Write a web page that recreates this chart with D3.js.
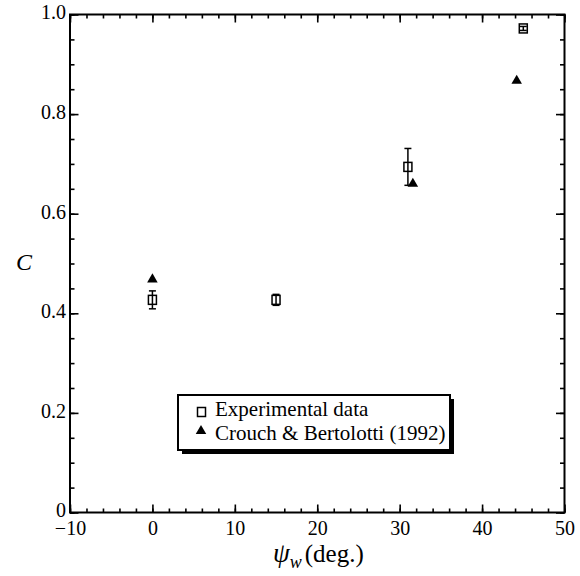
<!DOCTYPE html>
<html>
<head>
<meta charset="utf-8">
<script src="https://cdn.jsdelivr.net/npm/d3@7/dist/d3.min.js"></script>
<style>
  html, body { margin: 0; padding: 0; background: #fff; }
  svg { display: block; }
  svg text { font-family: "Liberation Serif", "Times New Roman", Times, serif; fill: #000; }
  .tick text { font-size: 20px; }
</style>
</head>
<body>
<svg id="chart" width="580" height="576"></svg>
<script>
// Tick values
const xMajor = [-10, 0, 10, 20, 30, 40, 50];
const xMinor = d3.range(-10, 50.001, 2);
const yMajor = [0, 0.2, 0.4, 0.6, 0.8, 1.0];
const yMinor = d3.range(0, 1.0001, 0.05);
const yTickLabels = ["0", "0.2", "0.4", "0.6", "0.8", "1.0"];

// Experimental data: wake angle (deg.), C, error half-width
const expPsi = [0, 15, 31, 45];
const expC = [0.427, 0.427, 0.694, 0.972];
const expErr = [0.018, 0.011, 0.037, 0.004];

// Crouch & Bertolotti (1992)
const cbPsi = [0, 31.6, 44.2];
const cbC = [0.469, 0.661, 0.868];

const legendLabels = ["Experimental data", "Crouch & Bertolotti (1992)"];

const svg = d3.select("#chart");
const plotL = 70, plotR = 564.5, plotT = 14.5, plotB = 512.5;

const x = d3.scaleLinear().domain([-10, 50]).range([plotL, plotR]);
const y = d3.scaleLinear().domain([0, 1]).range([plotB, plotT]);

const fmtX = d => d < 0 ? "\u2212" + Math.abs(d) : String(d);
const fmtY = d => yTickLabels[yMajor.findIndex(v => Math.abs(v - d) < 1e-9)] || "";

function axis(gen, transform, values, size, fmt, pad) {
  const g = svg.append("g").attr("transform", transform)
    .call(gen.tickValues(values).tickSize(size).tickPadding(pad)
      .tickFormat(fmt));
  g.attr("font-family", null).attr("font-size", null);
  g.select(".domain").remove();
  g.selectAll(".tick line").attr("stroke", "#000").attr("stroke-width", 1.6);
  return g;
}

// minor ticks (inward, all sides)
axis(d3.axisBottom(x), `translate(0,${plotB})`, xMinor, -4, () => "", 0);
axis(d3.axisTop(x), `translate(0,${plotT})`, xMinor, -4, () => "", 0);
axis(d3.axisLeft(y), `translate(${plotL},0)`, yMinor, -4.5, () => "", 0);
axis(d3.axisRight(y), `translate(${plotR},0)`, yMinor, -4.5, () => "", 0);

// major ticks
axis(d3.axisBottom(x), `translate(0,${plotB})`, xMajor, -8, fmtX, 8);
axis(d3.axisTop(x), `translate(0,${plotT})`, xMajor, -8, () => "", 0);
axis(d3.axisLeft(y), `translate(${plotL},0)`, yMajor, -8.5, fmtY, 4)
  .selectAll(".tick text").attr("dy", "0.22em");
axis(d3.axisRight(y), `translate(${plotR},0)`, yMajor, -8.5, () => "", 0);

// frame
svg.append("rect")
  .attr("x", plotL).attr("y", plotT)
  .attr("width", plotR - plotL).attr("height", plotB - plotT)
  .attr("fill", "none").attr("stroke", "#000").attr("stroke-width", 2);

// axis titles
svg.append("text")
  .attr("x", 24).attr("y", 270)
  .attr("text-anchor", "middle")
  .attr("font-style", "italic").attr("font-size", 24)
  .text("C");

const xt = svg.append("text")
  .attr("x", 273).attr("y", 562)
  .attr("font-size", 25);
xt.append("tspan").attr("font-style", "italic").attr("font-size", 27).text("\u03C8");
xt.append("tspan").attr("font-style", "italic").attr("font-size", 18).attr("dy", 6).text("w");
xt.append("tspan").attr("dy", -6).attr("dx", 3).text("(deg.)");

// marks
const tri = d3.symbol().type(d3.symbolTriangle).size(48);

function square(g, cx, cy) {
  g.append("rect")
    .attr("x", cx - 4).attr("y", cy - 4.5)
    .attr("width", 8).attr("height", 9)
    .attr("fill", "#fff").attr("stroke", "#000").attr("stroke-width", 1.5);
}

const expG = svg.append("g");
expPsi.forEach((p, i) => {
  const cx = x(p), cy = y(expC[i]);
  square(expG, cx, cy);
  const y1 = y(expC[i] + expErr[i]), y2 = y(expC[i] - expErr[i]);
  expG.append("line").attr("x1", cx).attr("x2", cx).attr("y1", y1).attr("y2", y2)
    .attr("stroke", "#000").attr("stroke-width", 1.5);
  [y1, y2].forEach(yy => expG.append("line")
    .attr("x1", cx - 3.5).attr("x2", cx + 3.5).attr("y1", yy).attr("y2", yy)
    .attr("stroke", "#000").attr("stroke-width", 1.5));
});

svg.append("g").selectAll("path").data(cbPsi).join("path")
  .attr("d", tri)
  .attr("transform", (d, i) => `translate(${x(d)},${y(cbC[i]) + 0.5})`)
  .attr("fill", "#000");

// legend with drop shadow
const lg = svg.append("g");
const bx = 178, by = 395, bw = 272, bh = 55;
lg.append("rect").attr("x", bx + 4).attr("y", by + 4).attr("width", bw).attr("height", bh).attr("fill", "#000");
lg.append("rect").attr("x", bx).attr("y", by).attr("width", bw).attr("height", bh)
  .attr("fill", "#fff").attr("stroke", "#000").attr("stroke-width", 2);

square(lg, 201.5, 412);
lg.append("path").attr("d", tri).attr("transform", "translate(201,431)").attr("fill", "#000");

legendLabels.forEach((t, i) => {
  lg.append("text")
    .attr("x", 215).attr("y", 415.5 + i * 24.5)
    .attr("font-size", 21)
    .text(t);
});
</script>
</body>
</html>
